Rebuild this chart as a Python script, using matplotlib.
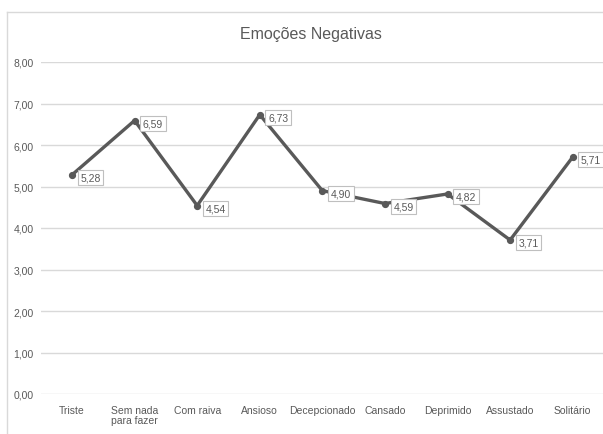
import matplotlib
matplotlib.use("Agg")
import matplotlib.pyplot as plt
from matplotlib.lines import Line2D
from matplotlib import font_manager

categories = ["Triste", "Sem nada\npara fazer", "Com raiva", "Ansioso", "Decepcionado",
              "Cansado", "Deprimido", "Assustado", "Solitário"]
values = [5.28, 6.59, 4.54, 6.73, 4.90, 4.59, 4.82, 3.71, 5.71]
yticks = [0, 1, 2, 3, 4, 5, 6, 7, 8]
title = "Emoções Negativas"

names = {f.name for f in font_manager.fontManager.ttflist}
family = "Liberation Sans Narrow" if "Liberation Sans Narrow" in names else "Liberation Sans"
plt.rcParams["font.family"] = [family, "DejaVu Sans"]

txt = "#595959"
grid = "#d9d9d9"

fig = plt.figure(figsize=(6.03, 4.35), dpi=100)
W, H = 603, 435
ax = fig.add_axes([40.7 / W, 1 - 395 / H, (604 - 40.7) / W, (395 - 63) / H])

x = list(range(len(categories)))
ax.plot(x, values, color="#595959", lw=2.4, marker="o", ms=4.2, zorder=3)

for xi, v in zip(x, values):
    ax.annotate(f"{v:.2f}".replace(".", ","), (xi, v), xytext=(6, -2),
                textcoords="offset points", ha="left", va="center",
                fontsize=7.5, color=txt,
                bbox=dict(boxstyle="square,pad=0.25", fc="white", ec="#bfbfbf", lw=0.8),
                zorder=4)

ax.set_xlim(-0.5, len(categories) - 0.5)
ax.set_ylim(0, 8)
ax.set_yticks(yticks)
ax.set_yticklabels([f"{t:.2f}".replace(".", ",") for t in yticks])
ax.set_xticks(x)
ax.set_xticklabels(categories, linespacing=1.0)
ax.tick_params(length=0, colors=txt, labelsize=7.5)
ax.tick_params(axis="y", pad=0)
ax.tick_params(axis="x", pad=8)
for lab in ax.get_yticklabels():
    lab.set_horizontalalignment("left")
    lab.set_x(-27 / 563)
ax.grid(axis="y", color=grid, lw=1)
ax.set_axisbelow(True)
for s in ax.spines.values():
    s.set_visible(False)

fig.text(311 / W, 1 - 35 / H, title, ha="center", va="center", fontsize=11.5, color=txt)

# chart frame
fig.add_artist(Line2D([7 / W, 1], [1 - 13 / H, 1 - 13 / H], color=grid, lw=1))
fig.add_artist(Line2D([7 / W, 7 / W], [0, 1 - 13 / H], color=grid, lw=1))

fig.savefig("out.png", dpi=100, facecolor="white")
